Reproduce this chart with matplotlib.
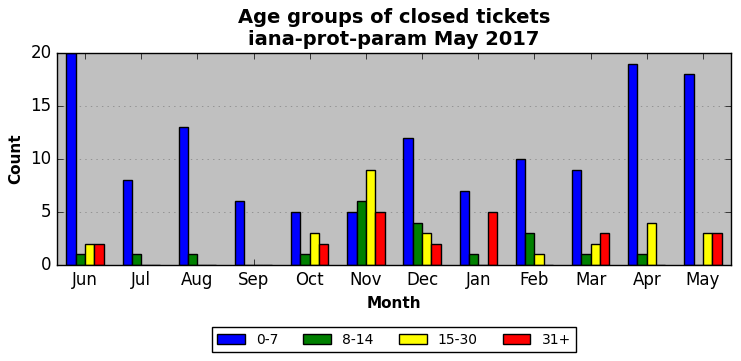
import numpy as np
import matplotlib
matplotlib.use('Agg')
import matplotlib.pyplot as plt

# Data
months = ['Jun', 'Jul', 'Aug', 'Sep', 'Oct', 'Nov', 'Dec', 'Jan', 'Feb', 'Mar', 'Apr', 'May']
age_0_7 = [20, 8, 13, 6, 5, 5, 12, 7, 10, 9, 19, 18]
age_8_14 = [1, 1, 1, 0, 1, 6, 4, 1, 3, 1, 1, 0]
age_15_30 = [2, 0, 0, 0, 3, 9, 3, 0, 1, 2, 4, 3]
age_31_plus = [2, 0, 0, 0, 2, 5, 2, 5, 0, 3, 0, 3]

series = [('0-7', age_0_7, 'blue'),
          ('8-14', age_8_14, 'green'),
          ('15-30', age_15_30, 'yellow'),
          ('31+', age_31_plus, 'red')]

plt.style.use('classic')
fig = plt.figure(figsize=(7.41, 3.61), dpi=100, facecolor='white')
ax = fig.add_axes([57 / 741, 1 - 265 / 361, 674 / 741, 212 / 361])
ax.set_facecolor('silver')

x = np.arange(len(months))
w = 1 / 6
for i, (label, vals, color) in enumerate(series):
    ax.bar(x + (i - 1.5) * w, vals, w, color=color, edgecolor='black',
           linewidth=1, label=label, align='center')

ax.set_xlim(-0.5, len(months) - 0.5)
ax.set_ylim(0, 20)
ax.set_yticks([0, 5, 10, 15, 20])
ax.set_xticks(x)
ax.set_xticklabels(months)
ax.yaxis.grid(True, linestyle=':', color='gray')
ax.set_axisbelow(True)

ax.set_title('Age groups of closed tickets\niana-prot-param May 2017',
             fontsize=14, fontweight='bold', y=1.005)
ax.set_xlabel('Month', fontsize=11, fontweight='bold')
ax.set_ylabel('Count', fontsize=11, fontweight='bold')

ax.legend(loc='upper center', bbox_to_anchor=(0.5, -0.26), ncol=4,
          fontsize=10, frameon=True, columnspacing=1.8)

fig.savefig('out.png', dpi=100, facecolor='white')
